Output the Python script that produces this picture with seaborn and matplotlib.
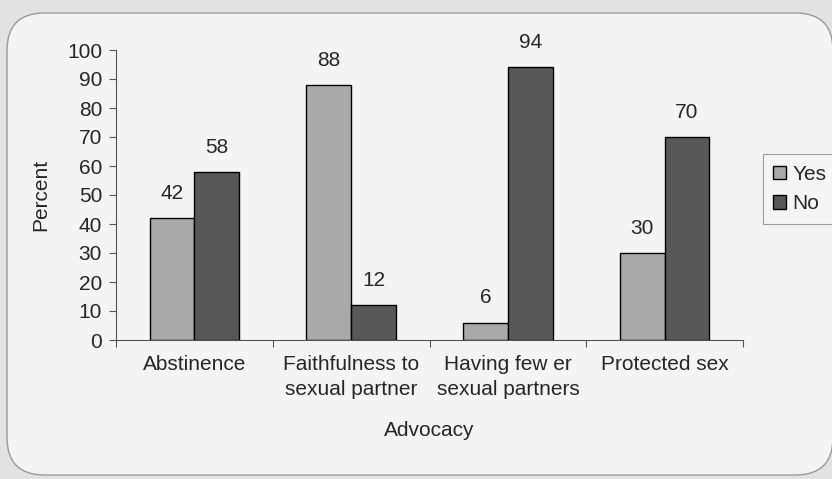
import matplotlib
matplotlib.use("Agg")
import matplotlib.pyplot as plt
from matplotlib.patches import FancyBboxPatch
from matplotlib.ticker import FixedLocator
import seaborn as sns
import pandas as pd

categories = ["Abstinence", "Faithfulness to\nsexual partner",
              "Having few er\nsexual partners", "Protected sex"]
yes_values = [42, 88, 6, 30]
no_values = [58, 12, 94, 70]
series = ["Yes", "No"]
y_ticks = list(range(0, 101, 10))

df = pd.DataFrame({
    "Advocacy": categories * 2,
    "Percent": yes_values + no_values,
    "Response": ["Yes"] * len(categories) + ["No"] * len(categories),
})

sns.set_theme(style="white")
plt.rcParams["font.family"] = ["Liberation Sans", "DejaVu Sans"]

FS = 15
TEXT = "#262626"

fig = plt.figure(figsize=(8.32, 4.79), dpi=100, facecolor="#e2e2e2")
W, H = 832, 479
frame = FancyBboxPatch((7 / W, 4 / H), 826 / W, 462 / H,
                       boxstyle="round,pad=0,rounding_size=0.045",
                       mutation_aspect=W / H,
                       transform=fig.transFigure, facecolor="#f4f4f4",
                       edgecolor="#9a9a9a", linewidth=1.0, zorder=-5)
fig.patches.append(frame)

ax = fig.add_axes([116 / W, 1 - 340 / H, 627 / W, 290 / H])
ax.set_zorder(2)
ax.set_facecolor("none")

palette = {"Yes": "#a9a9a9", "No": "#585858"}
sns.barplot(data=df, x="Advocacy", y="Percent", hue="Response",
            hue_order=series, palette=palette, width=0.57,
            edgecolor="black", linewidth=1.0, saturation=1, ax=ax,
            legend=True)

for container in ax.containers:
    ax.bar_label(container, fmt="%d", padding=11, fontsize=FS, color=TEXT)

ax.set_ylim(0, 100)
ax.set_xlim(-0.5, len(categories) - 0.5)
ax.set_yticks(y_ticks)
ax.tick_params(axis="y", which="both", left=True, length=5, width=0.8,
               color="#555555", labelsize=FS, labelcolor=TEXT, pad=5)
ax.tick_params(axis="x", which="major", length=0, labelsize=FS,
               labelcolor=TEXT, pad=11)
for lbl in ax.get_xticklabels():
    lbl.set_linespacing(1.35)
ax.xaxis.set_minor_locator(FixedLocator([i - 0.5 for i in range(len(categories) + 1)]))
ax.tick_params(axis="x", which="minor", bottom=True, length=5, width=0.8,
               color="#555555")

for side in ["top", "right"]:
    ax.spines[side].set_visible(False)
for side in ["left", "bottom"]:
    ax.spines[side].set_color("#555555")
    ax.spines[side].set_linewidth(0.8)

ax.set_ylabel("Percent", fontsize=FS, color=TEXT, labelpad=12)
ax.set_xlabel("Advocacy", fontsize=FS, color=TEXT, labelpad=16)

leg = ax.legend(loc="upper left", bbox_to_anchor=(1.032, 0.64),
                fontsize=FS, frameon=True, fancybox=False, handlelength=0.6,
                handleheight=0.6, handletextpad=0.3, borderpad=0.5,
                labelspacing=0.5, borderaxespad=0)
leg.get_frame().set_edgecolor("#888888")
leg.get_frame().set_facecolor("#f6f6f6")
leg.get_frame().set_linewidth(0.8)

fig.savefig("out.png", dpi=100, facecolor=fig.get_facecolor())
